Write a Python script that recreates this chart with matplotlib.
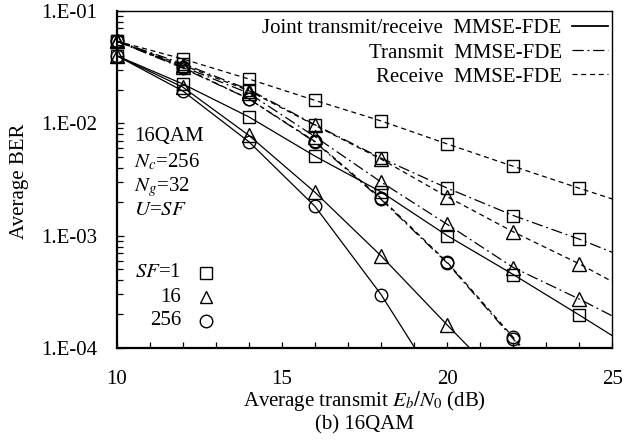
import numpy as np
import matplotlib
matplotlib.use('Agg')
import matplotlib.pyplot as plt
from matplotlib.lines import Line2D
from matplotlib.ticker import FixedLocator, MultipleLocator, LogLocator, NullFormatter

plt.rcParams['font.family'] = ['Liberation Serif', 'DejaVu Serif']
plt.rcParams['mathtext.fontset'] = 'stix'

# Eb/N0 (dB); the point at 26 is only there so the lines run to the right edge
snr = [10, 12, 14, 16, 18, 20, 22, 24, 26]

# Joint transmit/receive MMSE-FDE
joint_sf1 = [4.0e-2, 2.24e-2, 1.14e-2, 5.1e-3, 2.45e-3, 1.0e-3, 4.5e-4, 1.96e-4, 8.4e-5]
joint_sf16 = [4.0e-2, 2.1e-2, 7.8e-3, 2.43e-3, 6.6e-4, 1.6e-4, 4.0e-5]
joint_sf256 = [4.0e-2, 1.94e-2, 6.85e-3, 1.82e-3, 2.98e-4, 3.5e-5]

# Transmit MMSE-FDE
transmit_sf1 = [5.4e-2, 3.4e-2, 2.0e-2, 9.7e-3, 4.9e-3, 2.65e-3, 1.51e-3, 9.3e-4, 5.4e-4]
transmit_sf16 = [5.4e-2, 3.2e-2, 1.85e-2, 7.6e-3, 3.0e-3, 1.26e-3, 5.2e-4, 2.72e-4, 1.36e-4]
transmit_sf256 = [5.4e-2, 3.1e-2, 1.65e-2, 6.8e-3, 2.1e-3, 5.7e-4, 1.2e-4, 2.5e-5]

# Receive MMSE-FDE
receive_sf1 = [5.4e-2, 3.74e-2, 2.48e-2, 1.6e-2, 1.05e-2, 6.55e-3, 4.14e-3, 2.64e-3, 1.7e-3]
receive_sf16 = [5.4e-2, 3.3e-2, 1.95e-2, 9.6e-3, 4.8e-3, 2.22e-3, 1.08e-3, 5.6e-4, 2.7e-4]
receive_sf256 = [5.4e-2, 3.15e-2, 1.65e-2, 6.9e-3, 2.15e-3, 5.8e-4, 1.24e-4, 2.6e-5]

method_labels = ['Joint transmit/receive  MMSE-FDE', 'Transmit  MMSE-FDE', 'Receive  MMSE-FDE']
sf_labels = ['1', '16', '256']
ytick_labels = ['1.E-04', '1.E-03', '1.E-02', '1.E-01']

FS = 15
solid = '-'
dashdot = (0, (9, 3, 1.5, 3))
dashed = (0, (4, 3))
markers = ['s', '^', 'o']
msizes = [9, 10, 9]


def plot_curve(ax, y, style, marker, ms):
    x = np.array(snr[:len(y)], dtype=float)
    y = np.array(y)
    ax.plot(x, y, color='black', lw=0.9, linestyle=style)
    # markers drawn unclipped so the ones on the left edge are whole
    keep = (x <= 25) & (y >= 1e-4)
    ax.plot(x[keep], y[keep], linestyle='none', marker=marker, ms=ms,
            mfc='none', mec='black', mew=1.0, clip_on=False)


fig = plt.figure(figsize=(6.38, 4.41), dpi=100)
ax = fig.add_axes([0.183, 0.211, 0.777, 0.764])

groups = [
    (solid, [joint_sf1, joint_sf16, joint_sf256]),
    (dashdot, [transmit_sf1, transmit_sf16, transmit_sf256]),
    (dashed, [receive_sf1, receive_sf16, receive_sf256]),
]
for style, curves in groups:
    for y, m, ms in zip(curves, markers, msizes):
        plot_curve(ax, y, style, m, ms)

ax.set_yscale('log')
ax.set_xlim(10, 25)
ax.set_ylim(1e-4, 1e-1)

ax.xaxis.set_major_locator(FixedLocator([10, 15, 20, 25]))
ax.xaxis.set_minor_locator(MultipleLocator(1))
ax.yaxis.set_major_locator(FixedLocator([1e-4, 1e-3, 1e-2, 1e-1]))
ax.yaxis.set_minor_locator(LogLocator(base=10, subs=np.arange(2, 10)))
ax.yaxis.set_minor_formatter(NullFormatter())
ax.set_yticklabels(ytick_labels)

ax.tick_params(axis='both', which='both', direction='in', top=False, right=False,
               labelsize=FS, width=0.9, color='black')
ax.tick_params(axis='x', which='both', length=4, pad=16)
ax.tick_params(axis='y', which='major', length=5, pad=14)
ax.tick_params(axis='y', which='minor', length=4)

for side in ['left', 'bottom']:
    ax.spines[side].set_linewidth(1.6)
for side in ['top', 'right']:
    ax.spines[side].set_linewidth(1.0)

# legend for the methods (text first, line sample after)
handles = [Line2D([], [], color='black', lw=1.3, linestyle=solid),
           Line2D([], [], color='black', lw=0.9, linestyle=dashdot),
           Line2D([], [], color='black', lw=0.9, linestyle=dashed)]
ax.legend(handles, method_labels, loc='upper right', bbox_to_anchor=(0.99, 0.977),
          frameon=False, markerfirst=False, fontsize=FS, handlelength=1.7,
          handletextpad=0.5, labelspacing=0.22, borderpad=0, borderaxespad=0)

# parameter block
params = ['16QAM', '$N_c$=256', '$N_g$=32', '$U$=$SF$']
for txt, yy in zip(params, [0.627, 0.553, 0.479, 0.408]):
    ax.text(0.035, yy, txt, transform=ax.transAxes, fontsize=FS, ha='left', va='center')

# marker key for SF
for lab, m, yy in zip(sf_labels, markers, [0.223, 0.151, 0.080]):
    txt = '$SF$=' + lab if lab == '1' else lab
    ax.text(0.13, yy, txt, transform=ax.transAxes, fontsize=FS, ha='right', va='center')
    ax.plot([0.18], [yy], transform=ax.transAxes, marker=m, ms=9, mfc='none',
            mec='black', mew=1.0, linestyle='none')

fig.text(0.572, 1 - 401 / 441, 'Average transmit $E_b/N_0$ (dB)', fontsize=FS,
         ha='center', va='center')
fig.text(0.572, 1 - 425 / 441, '(b) 16QAM', fontsize=FS, ha='center', va='center')
fig.text(20 / 638, 0.588, 'Average BER', fontsize=FS, rotation=90,
         ha='center', va='center')

fig.savefig('out.png', dpi=100)
